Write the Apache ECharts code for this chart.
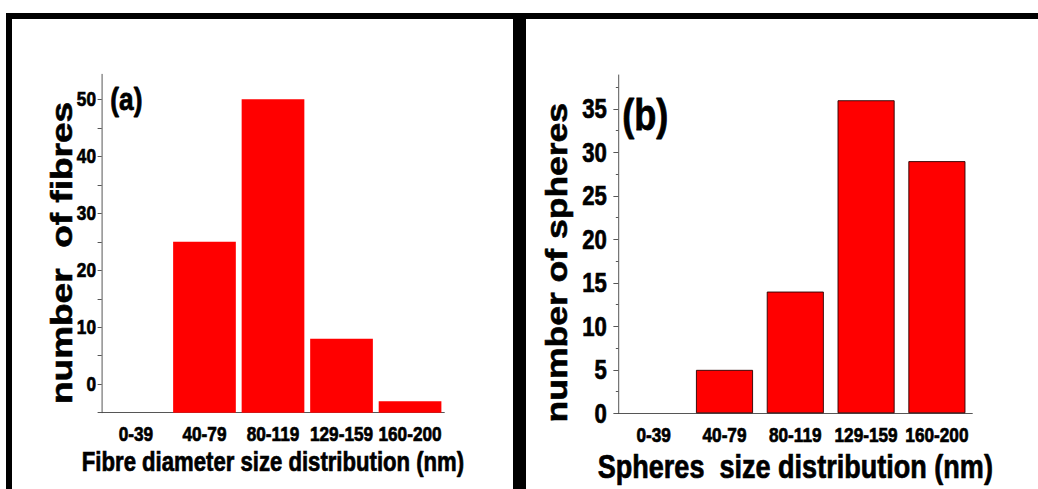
<!DOCTYPE html>
<html>
<head>
<meta charset="utf-8">
<script src="https://cdn.jsdelivr.net/npm/echarts@6/dist/echarts.min.js"></script>
<style>
html,body{margin:0;padding:0;background:#fff;overflow:hidden;width:1038px;height:489px;}
/* the original figure uses a condensed bold face; no narrow font is installed,
   so the chart is laid out wider and squeezed horizontally */
#chart{width:1266px;height:489px;transform:scaleX(0.82);transform-origin:0 0;}
</style>
</head>
<body>
<div id="chart"></div>
<script>
// ---- data ----
const categories = ['0-39', '40-79', '80-119', '129-159', '160-200'];
// panel (a): bar heights measured from the axis baseline
const fibreCounts = [0, 30, 55, 13, 2];
// panel (a): printed tick labels and the axis positions where they sit
const fibreTickLabels = ['0', '10', '20', '30', '40', '50'];
const fibreTickPositions = [5, 15, 25, 35, 45, 55];
const fibreMinorPositions = [0, 10, 20, 30, 40, 50];
// panel (b)
const sphereCounts = [0, 5, 14, 36, 29];
const sphereTickLabels = ['0', '5', '10', '15', '20', '25', '30', '35'];
const sphereTickPositions = [0, 5, 10, 15, 20, 25, 30, 35];
const sphereMinorPositions = [2.5, 7.5, 12.5, 17.5, 22.5, 27.5, 32.5, 37.5];

const SX = 0.82;                 // horizontal squeeze applied by CSS
const vx = x => x / SX;          // screen x -> layout x
const FONT = "'Liberation Sans', Arial, sans-serif";
const axisCol = '#444';
const heavy = { textBorderColor: '#000', textBorderWidth: 0.7 };

const chart = echarts.init(document.getElementById('chart'), null, { renderer: 'svg' });

function labelMap(positions, labels) {
  const m = {};
  positions.forEach((p, i) => { m[p] = labels[i]; });
  return v => (m[v] !== undefined ? m[v] : '');
}
function barData(values, withBorder) {
  return values.map(v => (v === 0 && withBorder) ? { value: 0, itemStyle: { borderWidth: 0 } } : v);
}
function txt(size, extra) {
  return Object.assign({ fontFamily: FONT, fontWeight: 'bold', fontSize: size, color: '#000' }, heavy, extra || {});
}

const option = {
  animation: false,
  backgroundColor: '#fff',
  graphic: [
    { type: 'rect', shape: { x: vx(6), y: 13, width: vx(1032), height: 6 }, style: { fill: '#000' } },
    { type: 'rect', shape: { x: vx(6), y: 13, width: vx(6), height: 476 }, style: { fill: '#000' } },
    { type: 'rect', shape: { x: vx(513), y: 13, width: vx(13), height: 476 }, style: { fill: '#000' } },
    { type: 'text', left: vx(110), top: 83, style: { text: '(a)', font: 'bold 32px ' + FONT, fill: '#000', stroke: '#000', lineWidth: 0.8 } },
    { type: 'text', left: vx(622), top: 93, style: { text: '(b)', font: 'bold 44px ' + FONT, fill: '#000', stroke: '#000', lineWidth: 0.8 } }
  ],
  grid: [
    { left: vx(101.7), top: 74.3, width: vx(342.6), height: 338.4 },
    { left: vx(618.3), top: 75, width: vx(354), height: 338.3 }
  ],
  xAxis: [
    {
      gridIndex: 0, type: 'category', data: categories,
      name: 'Fibre diameter size distribution (nm)', nameLocation: 'middle', nameGap: 35, nameMoveOverlap: false,
      nameTextStyle: txt(27),
      axisLine: { lineStyle: { color: axisCol, width: 1 } },
      axisTick: { alignWithLabel: true, length: 6, lineStyle: { color: axisCol } },
      axisLabel: Object.assign(txt(21), { margin: 11, interval: 0 })
    },
    {
      gridIndex: 0, type: 'category', data: categories, position: 'bottom',
      axisLine: { show: false },
      axisTick: { alignWithLabel: false, length: 3, lineStyle: { color: axisCol } },
      axisLabel: { show: false }
    },
    {
      gridIndex: 1, type: 'category', data: categories,
      name: 'Spheres  size distribution (nm)', nameLocation: 'middle', nameGap: 37, nameMoveOverlap: false,
      nameTextStyle: txt(33),
      axisLine: { lineStyle: { color: axisCol, width: 1 } },
      axisTick: { alignWithLabel: true, length: 6, lineStyle: { color: axisCol } },
      axisLabel: Object.assign(txt(21), { margin: 11, interval: 0 })
    },
    {
      gridIndex: 1, type: 'category', data: categories, position: 'bottom',
      axisLine: { show: false },
      axisTick: { alignWithLabel: false, length: 3, lineStyle: { color: axisCol } },
      axisLabel: { show: false }
    }
  ],
  yAxis: [
    {
      gridIndex: 0, type: 'value', min: 0, max: 59.4,
      name: 'number  of fibres', nameLocation: 'middle', nameGap: 31, nameMoveOverlap: false,
      nameTextStyle: txt(37, { padding: [0, 19, 0, 0] }),
      splitLine: { show: false },
      axisLine: { show: true, lineStyle: { color: axisCol, width: 1 } },
      axisTick: { show: true, length: 5, customValues: fibreTickPositions, lineStyle: { color: axisCol } },
      axisLabel: Object.assign(txt(21), { margin: 7,
        customValues: fibreTickPositions, formatter: labelMap(fibreTickPositions, fibreTickLabels) })
    },
    {
      gridIndex: 0, type: 'value', min: 0, max: 59.4, position: 'left',
      splitLine: { show: false }, axisLine: { show: false },
      axisTick: { show: true, length: 5, customValues: fibreMinorPositions, lineStyle: { color: axisCol } },
      axisLabel: { show: false }
    },
    {
      gridIndex: 1, type: 'value', min: 0, max: 38.9,
      name: 'number of spheres', nameLocation: 'middle', nameGap: 57, nameMoveOverlap: false,
      nameTextStyle: txt(35.5, { padding: [0, 37, 0, 0] }),
      splitLine: { show: false },
      axisLine: { show: true, lineStyle: { color: axisCol, width: 1 } },
      axisTick: { show: true, length: 6, customValues: sphereTickPositions, lineStyle: { color: axisCol } },
      axisLabel: Object.assign(txt(27), { margin: 14,
        customValues: sphereTickPositions, formatter: labelMap(sphereTickPositions, sphereTickLabels) })
    },
    {
      gridIndex: 1, type: 'value', min: 0, max: 38.9, position: 'left',
      splitLine: { show: false }, axisLine: { show: false },
      axisTick: { show: true, length: 3, customValues: sphereMinorPositions, lineStyle: { color: axisCol } },
      axisLabel: { show: false }
    }
  ],
  series: [
    {
      type: 'bar', xAxisIndex: 0, yAxisIndex: 0, data: barData(fibreCounts, false),
      barCategoryGap: '8.5%',
      itemStyle: { color: '#ff0000' }
    },
    {
      type: 'bar', xAxisIndex: 2, yAxisIndex: 2, data: barData(sphereCounts, true),
      barCategoryGap: '19.5%',
      itemStyle: { color: '#ff0000', borderColor: '#2a0000', borderWidth: 1 }
    }
  ]
};
chart.setOption(option);
</script>
</body>
</html>
